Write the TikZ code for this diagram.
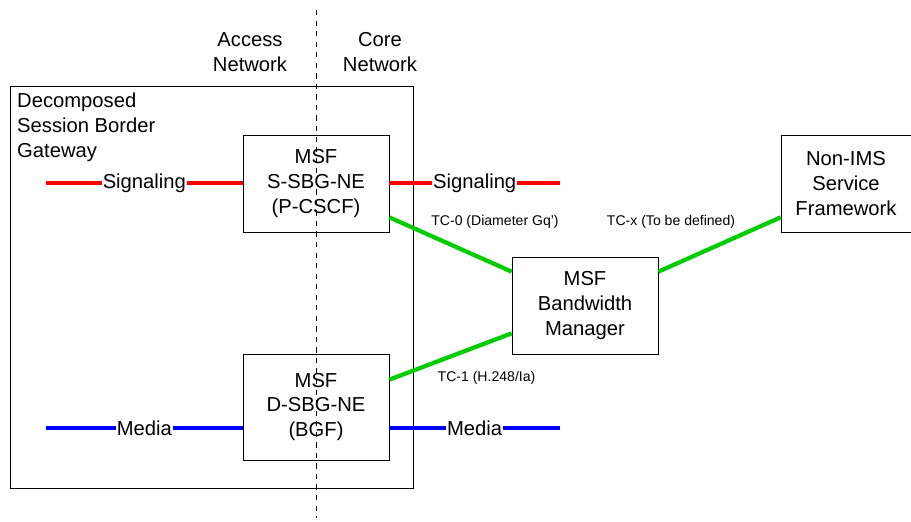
\documentclass[tikz,border=0pt]{standalone}
\usepackage{fontspec}
\setmainfont{Liberation Sans}
\usetikzlibrary{calc}
\tikzset{
  ne/.style={draw, thin, minimum width=2.92cm, minimum height=1.94cm, align=center, inner sep=1pt},
  sig/.style={red, line width=2.4pt},
  med/.style={blue, line width=2.4pt},
  tc/.style={green!80!black, line width=2.4pt},
  lbl/.style={fill=white, inner sep=0.5pt},
  tclbl/.style={font=\fontsize{8}{9.6}\selectfont}
}
\begin{document}
\begin{tikzpicture}[every node/.style={font=\fontsize{11.5}{14.2}\selectfont}]
			\useasboundingbox (0,0) rectangle (18.22,10.42);
			% Confine accesso / core
			\draw[dashed, thin] (6.32,10.22) -- (6.32,0.06);
			\node[align=center] (access) at (5.0,9.38) {Access\\Network};
			\node[align=center] (core) at (7.6,9.38) {Core\\Network};
			
			% Gateway decomposto
			\draw[thin] (0.2,0.66) rectangle (8.26,8.7);
			\node[align=left, anchor=west] (sbg) at (0.22,7.88) {Decomposed\\Session Border\\Gateway};
			
			% Elementi di rete
			\node[ne] (ssbg) at (6.32,6.75) {MSF\\S-SBG-NE\\(P-CSCF)};
			\node[ne, minimum height=2.12cm] (dsbg) at (6.32,2.28) {MSF\\D-SBG-NE\\(BGF)};
			\node[ne] (bwm) at (11.7,4.31) {MSF\\Bandwidth\\Manager};
			\node[ne, minimum width=2.6cm] (nims) at (16.92,6.75) {Non-IMS\\Service\\Framework};
			
			% Segnalazione
			\coordinate (sigL) at (0.92,6.76);
			\coordinate (sigR) at (11.2,6.76);
			\draw[sig] (sigL) -- (sigL -| ssbg.west) node[midway, lbl, text=black] {Signaling};
			\draw[sig] (sigR -| ssbg.east) -- (sigR) node[midway, lbl, text=black] {Signaling};
			
			% Media
			\coordinate (medL) at (0.92,1.86);
			\coordinate (medR) at (11.2,1.86);
			\draw[med] (medL) -- (medL -| dsbg.west) node[midway, lbl, text=black] {Media};
			\draw[med] (medR -| dsbg.east) -- (medR) node[midway, lbl, text=black] {Media};
			
			% Interfacce TC
			\draw[tc] ([yshift=0.3cm]ssbg.south east) -- ([yshift=-0.3cm]bwm.north west);
			\draw[tc] ([yshift=-0.52cm]dsbg.north east) -- ([yshift=0.42cm]bwm.south west);
			\draw[tc] ([yshift=-0.3cm]bwm.north east) -- ([yshift=0.3cm]nims.south west);
			\node[tclbl] (tc0) at (9.9,5.98) {TC-0 (Diameter Gq')};
			\node[tclbl] (tcx) at (13.42,5.98) {TC-x (To be defined)};
			\node[tclbl] (tc1) at (9.73,2.86) {TC-1 (H.248/Ia)};
		\end{tikzpicture}
\end{document}
